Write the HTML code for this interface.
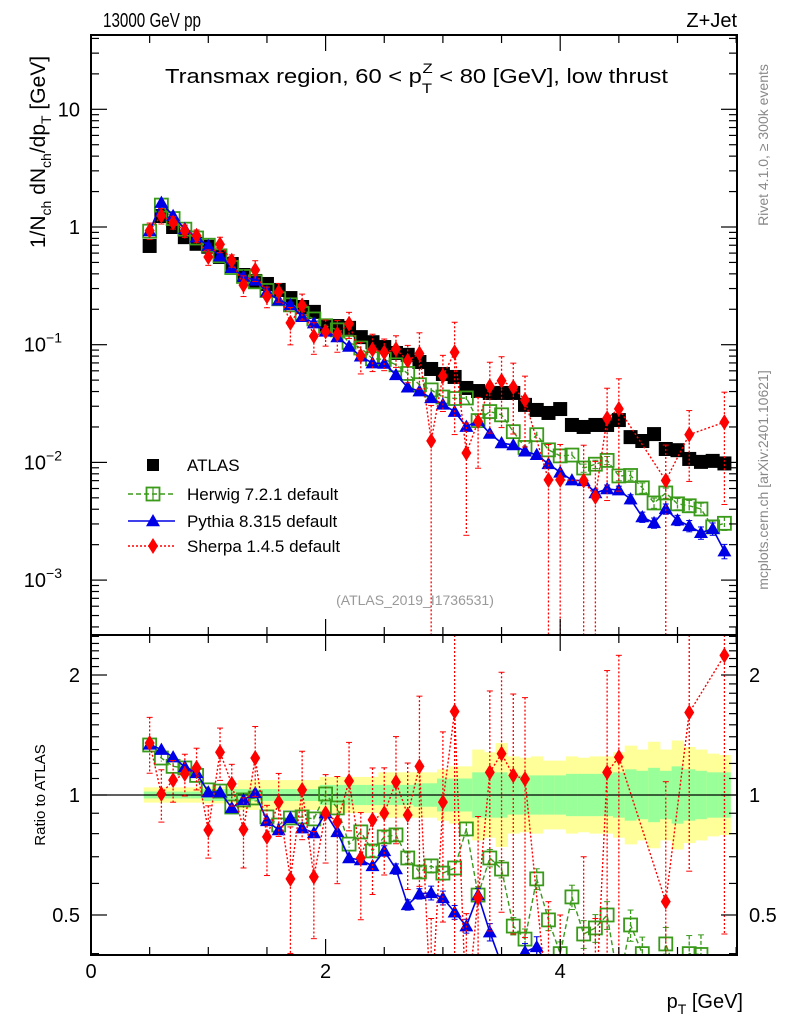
<!DOCTYPE html>
<html><head><meta charset="utf-8"><style>
html,body{margin:0;padding:0;background:#fff;width:786px;height:1024px;overflow:hidden}
svg{display:block;font-family:"Liberation Sans",sans-serif}
</style></head><body>
<svg id="chart" width="786" height="1024" viewBox="0 0 786 1024" xmlns="http://www.w3.org/2000/svg">
<defs>
<clipPath id="clipMain"><rect x="91" y="35" width="646" height="600"/></clipPath>
<clipPath id="clipRatio"><rect x="91" y="635" width="646" height="320"/></clipPath>
</defs>
<rect width="786" height="1024" fill="#fff"/>
<g id="bands" clip-path="url(#clipRatio)"></g>
<line x1="91" y1="795" x2="737" y2="795" stroke="#000" stroke-width="1.2"/>
<g id="mainSeries" clip-path="url(#clipMain)"></g>
<g id="ratioSeries" clip-path="url(#clipRatio)"></g>
<g id="axes"></g>
<text x="103" y="27" font-size="20" textLength="98" lengthAdjust="spacingAndGlyphs">13000 GeV pp</text>
<text x="737" y="27" font-size="20" text-anchor="end">Z+Jet</text>
<text x="165" y="83" font-size="20" textLength="503" lengthAdjust="spacingAndGlyphs">Transmax region, 60 &lt; p<tspan font-size="14" dy="10">T</tspan><tspan font-size="14" dx="-8" dy="-20">Z</tspan><tspan dy="10"> &lt; 80 [GeV], low thrust</tspan></text>
<text transform="translate(45,152) rotate(-90)" font-size="21" text-anchor="middle">1/N<tspan font-size="14" dy="6">ch</tspan><tspan dy="-6"> dN</tspan><tspan font-size="14" dy="6">ch</tspan><tspan dy="-6">/dp</tspan><tspan font-size="14" dy="6">T</tspan><tspan dy="-6"> [GeV]</tspan></text>
<text transform="translate(768,145) rotate(-90)" font-size="14" fill="#888" text-anchor="middle">Rivet 4.1.0, ≥ 300k events</text>
<text transform="translate(768,480) rotate(-90)" font-size="14" fill="#888" text-anchor="middle">mcplots.cern.ch [arXiv:2401.10621]</text>
<text x="415" y="605" font-size="14" fill="#999" text-anchor="middle">(ATLAS_2019_I1736531)</text>
<text transform="translate(45,795) rotate(-90)" font-size="15" text-anchor="middle">Ratio to ATLAS</text>
<text x="743" y="1008" font-size="20" text-anchor="end">p<tspan font-size="14" dy="6">T</tspan><tspan dy="-6"> [GeV]</tspan></text>
<g id="legend"></g>
</svg>
<script>
const xCenters = [0.5,0.6,0.7,0.8,0.9,1.0,1.1,1.2,1.3,1.4,1.5,1.6,1.7,1.8,1.9,2.0,2.1,2.2,2.3,2.4,2.5,2.6,2.7,2.8,2.9,3.0,3.1,3.2,3.3,3.4,3.5,3.6,3.7,3.8,3.9,4.0,4.1,4.2,4.3,4.4,4.5,4.6,4.7,4.8,4.9,5.0,5.1,5.2,5.3,5.4];
const atlasValues = [0.69,1.24,1.0,0.82,0.72,0.68,0.556,0.485,0.391,0.348,0.328,0.292,0.249,0.209,0.190,0.144,0.144,0.139,0.116,0.105,0.0955,0.085,0.082,0.0713,0.0622,0.0564,0.0532,0.0429,0.0404,0.0389,0.0389,0.0389,0.0308,0.0279,0.0263,0.0284,0.0208,0.0200,0.0208,0.0208,0.0229,0.0164,0.0152,0.0174,0.0130,0.0127,0.0107,0.0101,0.0103,0.0098];
const pythiaRatio = [1.34,1.30,1.245,1.176,1.136,1.017,1.017,0.928,0.972,1.012,0.861,0.817,0.876,0.826,0.803,0.901,0.808,0.695,0.687,0.664,0.724,0.652,0.530,0.565,0.568,0.552,0.508,0.469,0.561,0.453,0.376,0.361,0.404,0.416,0.369,0.29,0.34,0.348,0.264,0.286,0.254,0.297,0.226,0.176,0.31,0.254,0.27,0.25,0.265,0.18];
const pythiaErr = [0.02,0.02,0.02,0.02,0.02,0.02,0.02,0.02,0.02,0.02,0.02,0.02,0.02,0.02,0.02,0.02,0.02,0.02,0.02,0.02,0.03,0.03,0.03,0.03,0.04,0.04,0.04,0.04,0.04,0.05,0.05,0.05,0.05,0.06,0.06,0.06,0.07,0.07,0.08,0.08,0.08,0.09,0.1,0.1,0.1,0.1,0.11,0.12,0.12,0.14];
const herwigRatio = [1.335,1.238,1.18,1.169,1.12,1.03,1.023,0.933,0.972,0.983,0.881,0.841,0.876,0.881,0.871,1.006,0.928,0.753,0.808,0.724,0.785,0.794,0.695,0.641,0.664,0.637,0.656,0.822,0.561,0.695,0.652,0.469,0.435,0.616,0.486,0.40,0.555,0.448,0.464,0.50,0.335,0.472,0.40,0.26,0.423,0.35,0.40,0.398,0.275,0.31];
const herwigErr = [0.02,0.02,0.02,0.02,0.02,0.02,0.02,0.02,0.02,0.02,0.02,0.02,0.02,0.02,0.02,0.02,0.02,0.02,0.02,0.03,0.03,0.03,0.03,0.03,0.04,0.04,0.04,0.04,0.05,0.05,0.05,0.05,0.06,0.06,0.06,0.07,0.07,0.08,0.08,0.08,0.09,0.09,0.1,0.1,0.1,0.11,0.11,0.12,0.12,0.13];
const sherpaRatio = [1.35,1.006,1.09,1.13,1.17,0.817,1.28,1.066,0.82,1.238,0.785,0.96,0.616,1.03,0.623,0.90,0.856,1.084,0.695,0.866,0.90,1.078,0.891,1.18,0.245,0.96,1.62,0.28,0.552,1.14,1.27,1.12,1.097,null,0.27,0.25,null,0.35,0.245,1.14,1.245,null,null,null,0.54,null,1.61,null,null,2.24];
const sherpaErr = [0.16,0.15,0.12,0.12,0.12,0.15,0.15,0.12,0.2,0.2,0.2,0.18,0.35,0.25,0.3,0.25,0.3,0.25,0.3,0.35,0.3,0.3,0.35,0.5,1.0,0.5,0.8,0.8,0.6,0.6,0.6,0.6,0.6,null,1,1,null,1,1,0.8,0.8,null,null,null,1,null,0.6,null,null,0.8];
const bandTotal = [0.045,0.045,0.045,0.045,0.045,0.05,0.05,0.05,0.09,0.09,0.09,0.09,0.09,0.09,0.09,0.11,0.11,0.11,0.11,0.11,0.14,0.14,0.14,0.14,0.14,0.16,0.18,0.18,0.3,0.28,0.35,0.25,0.24,0.25,0.22,0.22,0.25,0.24,0.25,0.25,0.28,0.33,0.3,0.36,0.3,0.37,0.32,0.3,0.27,0.26];
const bandStat = [0.02,0.02,0.02,0.02,0.02,0.035,0.035,0.035,0.035,0.035,0.035,0.035,0.035,0.035,0.035,0.06,0.06,0.06,0.06,0.06,0.06,0.06,0.06,0.07,0.07,0.1,0.1,0.1,0.14,0.14,0.14,0.12,0.12,0.12,0.12,0.12,0.13,0.13,0.13,0.13,0.14,0.16,0.15,0.17,0.15,0.18,0.16,0.15,0.14,0.14];
const mainTickVals = [10,1,0.1,0.01,0.001];
const mainTickLabels = ["10","1","10","10","10"];
const mainTickExps = ["","","−1","−2","−3"];
const ratioTickVals = [2,1,0.5];
const ratioTickLabels = ["2","1","0.5"];
const xTickVals = [0,2,4];
const xTickLabels = ["0","2","4"];

const NS="http://www.w3.org/2000/svg";
const X0=91,X1=737,MT=35,MB=635,RB=955;
function xp(x){return X0+x*117.3;}
function ym(v){return 227-117.7*Math.log10(v);}
function yr(r){return 795-398.6*Math.log10(r);}
function clamp(v,a,b){return Math.max(a,Math.min(b,v));}
function mk(tag,attrs,parent){const el=document.createElementNS(NS,tag);for(const k in attrs)el.setAttribute(k,attrs[k]);parent.appendChild(el);return el;}

const bands=document.getElementById('bands');
xCenters.forEach((x,i)=>{
  const t=bandTotal[i],s=bandStat[i];
  const y1=mk('rect',{x:xp(x-0.05),y:yr(1+t),width:117.3*0.1+0.5,height:yr(1/(1+t))-yr(1+t),fill:'#ffff99'},bands);
  
  
  const g1=mk('rect',{x:xp(x-0.05),y:yr(1+s),width:117.3*0.1+0.5,height:yr(1/(1+s))-yr(1+s),fill:'#99ff99'},bands);
  
  
});

function triangle(cx,cy,col,p){const s=7;return mk('polygon',{points:`${cx},${cy-s} ${cx-s},${cy+s*0.75} ${cx+s},${cy+s*0.75}`,fill:col},p);}
function diamond(cx,cy,col,p){return mk('polygon',{points:`${cx},${cy-8} ${cx+5},${cy} ${cx},${cy+8} ${cx-5},${cy}`,fill:col},p);}
function openSq(cx,cy,col,p){return mk('rect',{x:cx-6.5,y:cy-6.5,width:13,height:13,fill:'none',stroke:col,'stroke-width':1.8},p);}

function drawSeries(parent,ratioArr,errArr,yfun,isMain,col,dash,shape,name){
  const top=isMain?MT:MB, bot=isMain?MB:RB;
  const pts=[];
  xCenters.forEach((x,i)=>{const r=ratioArr[i];if(r==null)return;const v=isMain?r*atlasValues[i]:r;pts.push([xp(x),yfun(v),v,errArr[i]]);});
  const pl=mk('polyline',{points:pts.map(p=>p[0]+','+clamp(p[1],top-60,bot+60)).join(' '),fill:'none',stroke:col,'stroke-width':shape==='tri'?1.6:1.4,'stroke-dasharray':dash},parent);
  
  
  pts.forEach(p=>{
    const er=p[3];const hi=p[2]*(1+er);const lo=p[2]*(1-er);
    const ytopRaw=yfun(hi);const ybotRaw=lo>0?yfun(lo):bot;
    const ytop=clamp(ytopRaw,top,bot), ybot=clamp(ybotRaw,top,bot);
    if(ybot>ytop){
      const eb=mk('line',{x1:p[0],x2:p[0],y1:ytop,y2:ybot,stroke:col,'stroke-width':1.3,'stroke-dasharray':shape==='dia'?'2,2':(shape==='sq'?'4,2':'none')},parent);
      
      
      if(ybotRaw-ytopRaw>8){
        if(ytopRaw>=top)mk('line',{x1:p[0]-3,x2:p[0]+3,y1:ytop,y2:ytop,stroke:col,'stroke-width':1},parent);
        if(lo>0&&ybotRaw<=bot)mk('line',{x1:p[0]-3,x2:p[0]+3,y1:ybot,y2:ybot,stroke:col,'stroke-width':1},parent);
      }
    }
    if(p[1]<top-10||p[1]>bot+10)return;
    let m;
    if(shape==='tri')m=triangle(p[0],p[1],col,parent);
    else if(shape==='dia')m=diamond(p[0],p[1],col,parent);
    else m=openSq(p[0],p[1],col,parent);
    
    
  });
}

const ms=document.getElementById('mainSeries');
xCenters.forEach((x,i)=>{
  const r=mk('rect',{x:xp(x)-7,y:ym(atlasValues[i])-7,width:14,height:14,fill:'#000'},ms);
  
  
});
drawSeries(ms,herwigRatio,herwigErr,ym,true,'#3a9a1a','5,3','sq','herwig');
drawSeries(ms,pythiaRatio,pythiaErr,ym,true,'#0000e6','none','tri','pythia');
drawSeries(ms,sherpaRatio,sherpaErr,ym,true,'#ff0000','2,2','dia','sherpa');
const rs=document.getElementById('ratioSeries');
drawSeries(rs,herwigRatio,herwigErr,yr,false,'#3a9a1a','5,3','sq','herwig-ratio');
drawSeries(rs,pythiaRatio,pythiaErr,yr,false,'#0000e6','none','tri','pythia-ratio');
drawSeries(rs,sherpaRatio,sherpaErr,yr,false,'#ff0000','2,2','dia','sherpa-ratio');

const ax=document.getElementById('axes');
mk('rect',{x:X0,y:MT,width:X1-X0,height:MB-MT,fill:'none',stroke:'#000','stroke-width':2},ax);
mk('rect',{x:X0,y:MB,width:X1-X0,height:RB-MB,fill:'none',stroke:'#000','stroke-width':2},ax);
function tk(a,b,c,d){mk('line',{x1:a,y1:b,x2:c,y2:d,stroke:'#000','stroke-width':1.2},ax);}
for(let d=-4;d<=1;d++){for(let m=1;m<=9;m++){const v=m*Math.pow(10,d);const y=ym(v);if(y<MT||y>MB)continue;const L=m===1?16:8;tk(X0,y,X0+L,y);tk(X1,y,X1-L,y);}}
mainTickVals.forEach((v,i)=>{
  const t=mk('text',{x:mainTickExps[i]?62:80,y:ym(v)+7,'font-size':20,'text-anchor':'end'},ax);
  t.textContent=mainTickLabels[i];
  if(mainTickExps[i]){const s=mk('tspan',{'font-size':14,dy:-9},t);s.textContent=mainTickExps[i];}
  
  
});
[0.4,0.5,0.6,0.7,0.8,0.9,1,1.1,1.2,1.3,1.4,1.5,1.6,1.7,1.8,1.9,2,2.1,2.2,2.3,2.4,2.5].forEach(v=>{const y=yr(v);if(y<MB||y>RB)return;const L=(v===0.5||v===1||v===2)?16:8;tk(X0,y,X0+L,y);tk(X1,y,X1-L,y);});
ratioTickVals.forEach((v,i)=>{
  const t=mk('text',{x:80,y:yr(v)+7,'font-size':20,'text-anchor':'end'},ax);t.textContent=ratioTickLabels[i];
  
  
  const t2=mk('text',{x:749,y:yr(v)+7,'font-size':20},ax);t2.textContent=ratioTickLabels[i];
  
  
});
for(let k=0;k<=11;k++){const x=k*0.5;const px=xp(x);if(px>X1)continue;const L=(k%4===0)?16:8;
  tk(px,RB,px,RB-L);tk(px,MT,px,MT+L);tk(px,MB,px,MB-L);tk(px,MB,px,MB+L);}
xTickVals.forEach((v,i)=>{const t=mk('text',{x:xp(v),y:978,'font-size':20,'text-anchor':'middle'},ax);t.textContent=xTickLabels[i];
  
  });

const lg=document.getElementById('legend');
const rows=[['ATLAS',465],['Herwig 7.2.1 default',494],['Pythia 8.315 default',521],['Sherpa 1.4.5 default',546]];
const la=mk('rect',{x:147,y:459,width:12,height:12,fill:'#000'},lg);


mk('line',{x1:128,x2:175,y1:494,y2:494,stroke:'#3a9a1a','stroke-width':1.4,'stroke-dasharray':'5,3'},lg);
mk('line',{x1:153,x2:153,y1:487,y2:501,stroke:'#3a9a1a','stroke-width':1.2},lg);
openSq(153,494,'#3a9a1a',lg);
mk('line',{x1:128,x2:175,y1:521,y2:521,stroke:'#0000e6','stroke-width':1.6},lg);
triangle(153,521,'#0000e6',lg);
mk('line',{x1:128,x2:175,y1:546,y2:546,stroke:'#ff0000','stroke-width':1.4,'stroke-dasharray':'2,2'},lg);
diamond(153,546,'#ff0000',lg);
rows.forEach(r=>{const t=mk('text',{x:187,y:r[1]+6,'font-size':17},lg);t.textContent=r[0];
  
  });
</script>
</body></html>
